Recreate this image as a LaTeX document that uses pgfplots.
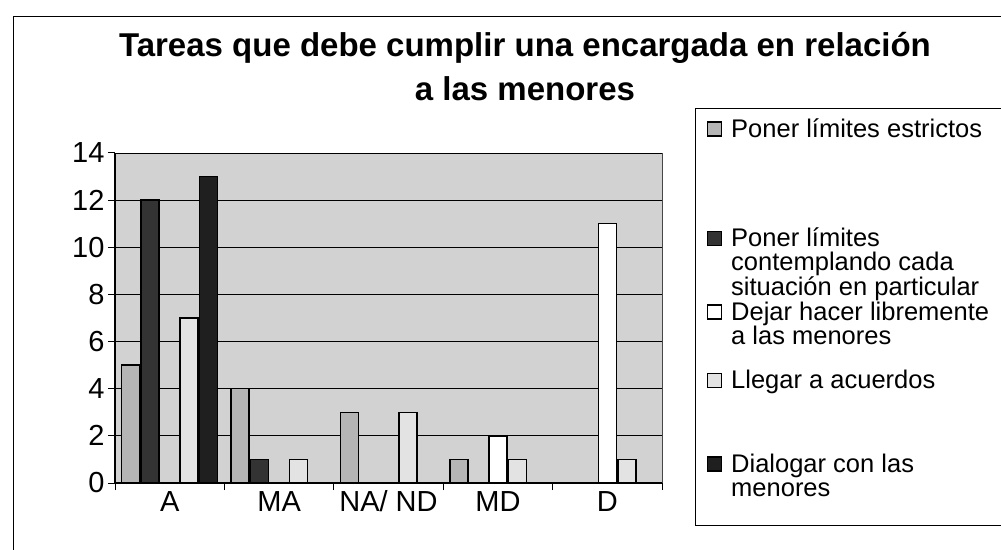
\documentclass[border=0pt]{standalone}
\usepackage{pgfplots}
\pgfplotsset{compat=1.18}
\usepackage{fontspec}
\setmainfont{Liberation Sans}

\begin{document}
\begin{tikzpicture}[x=1pt,y=1pt]
\useasboundingbox (0,0) rectangle (1001,549);
\draw[line width=1pt] (13,-5) -- (13,532) -- (1010,532);
\node[font=\bfseries\fontsize{33}{36}\selectfont, anchor=base] at (525,492) {Tareas que debe cumplir una encargada en relación};
\node[font=\bfseries\fontsize{33}{36}\selectfont, anchor=base] at (525,448) {a las menores};
\draw[line width=0.8pt] (695,24) rectangle (1010,441);
\begin{axis}[
  at={(115pt,66pt)}, anchor=south west,
  scale only axis, width=547pt, height=330pt,
  xmin=-0.5, xmax=4.5, ymin=0, ymax=14,
  ybar=1.5pt, bar width=18pt,
  axis x line*=bottom, axis y line*=left,
  axis line style={black, line width=1.2pt, -},
  axis background/.style={fill=gray!35, draw=gray!55!black, line width=0.8pt},
  ymajorgrids, major grid style={black, line width=0.9pt},
  ytick={0,2,...,14},
  xtick={-0.5,0.5,1.5,2.5,3.5,4.5}, xticklabels={,,,,,},
  extra x ticks={0,1,2,3,4},
  extra x tick labels={A,MA,NA/ ND,MD,D},
  extra x tick style={major tick length=0pt, grid=none},
  tick align=outside, major tick length=7pt,
  tick style={black, line width=1pt},
  tick label style={font=\fontsize{29}{32}\selectfont},
  x tick label style={text height=21pt, text depth=6pt, yshift=-4pt},
  /pgf/number format/assume math mode=true,
  legend style={at={(1.0823,1.109)}, anchor=north west, draw=none, fill=none,
    inner sep=0pt, outer sep=0pt, row sep=0pt,
    font=\fontsize{25.5}{24}\selectfont,
    nodes={inner sep=0pt, anchor=base west},
    /tikz/every odd column/.append style={column sep=9pt}},
  legend cell align=left,
  legend image code/.code={\draw[#1, line width=1.2pt] (0pt,1pt) rectangle (14pt,15pt);},
]
\addplot[fill=gray!58, draw=black, line width=1.5pt] coordinates {(0,5) (1,4) (2,3) (3,1) (4,0)};
\addlegendentry{\raisebox{0pt}[20pt][0pt]{Poner límites estrictos}}
\addplot[fill=black!80, draw=black, line width=1.5pt] coordinates {(0,12) (1,1) (2,0) (3,0) (4,0)};
\addlegendentry{\raisebox{0pt}[108pt][0pt]{\vtop{\hbox{Poner límites}\hbox{contemplando cada}\hbox{situación en particular}}}}
\addplot[fill=white, draw=black, line width=1.5pt] coordinates {(0,0) (1,0) (2,0) (3,2) (4,11)};
\addlegendentry{\raisebox{0pt}[72pt][0pt]{\vtop{\hbox{Dejar hacer libremente}\hbox{a las menores}}}}
\addplot[fill=gray!22, draw=black, line width=1.5pt] coordinates {(0,7) (1,1) (2,3) (3,1) (4,1)};
\addlegendentry{\raisebox{0pt}[67pt][0pt]{Llegar a acuerdos}}
\addplot[fill=black!88, draw=black, line width=1.5pt] coordinates {(0,13) (1,0) (2,0) (3,0) (4,0)};
\addlegendentry{\raisebox{0pt}[82pt][0pt]{\vtop{\hbox{Dialogar con las}\hbox{menores}}}}
\end{axis}
\end{tikzpicture}
\end{document}
